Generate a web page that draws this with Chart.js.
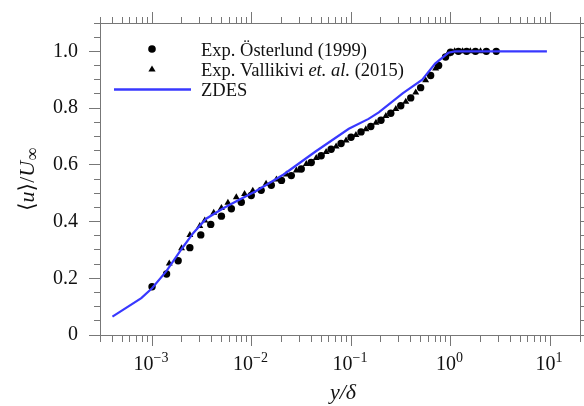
<!DOCTYPE html>
<html>
<head>
<meta charset="utf-8">
<script src="https://cdn.jsdelivr.net/npm/chart.js@4.4.1/dist/chart.umd.min.js"></script>
<style>
html,body{margin:0;padding:0;background:#fff;}
#wrap{width:584px;height:406px;}
</style>
</head>
<body>
<div id="wrap"><canvas id="chart" width="584" height="406"></canvas></div>
<script>
// ZDES mean velocity profile
const zdesX = [0.0004, 0.00078, 0.001, 0.0014, 0.002, 0.0026, 0.0035, 0.0052, 0.0076, 0.011, 0.015, 0.021, 0.044, 0.095, 0.15, 0.19, 0.33, 0.52, 0.70, 0.95, 1.1, 9.3];
const zdesY = [0.065, 0.13, 0.165, 0.226, 0.305, 0.36, 0.41, 0.447, 0.478, 0.507, 0.535, 0.566, 0.647, 0.727, 0.762, 0.785, 0.852, 0.90, 0.957, 0.995, 1.0, 1.0];

// Exp. Osterlund (1999) - circles
const ostX = [0.0010, 0.0014, 0.00183, 0.0024, 0.00309, 0.00389, 0.00498, 0.00627, 0.00789, 0.00993, 0.0125, 0.0158, 0.020, 0.0251, 0.0316, 0.0398, 0.0501, 0.0631, 0.0794, 0.100, 0.126, 0.158, 0.200, 0.251, 0.316, 0.398, 0.501, 0.631, 0.759, 0.891, 1.0, 1.20, 1.45, 1.78, 2.29, 2.88];
const ostY = [0.170, 0.215, 0.262, 0.308, 0.353, 0.390, 0.419, 0.445, 0.468, 0.492, 0.510, 0.528, 0.545, 0.562, 0.585, 0.608, 0.632, 0.655, 0.675, 0.697, 0.716, 0.735, 0.757, 0.782, 0.808, 0.836, 0.872, 0.915, 0.950, 0.980, 0.997, 1.0, 1.0, 1.0, 1.0, 1.0];

// Exp. Vallikivi et al. (2015) - triangles
const valX = [0.00149, 0.00198, 0.0024, 0.00302, 0.00339, 0.00417, 0.00498, 0.00579, 0.00703, 0.00851, 0.0103, 0.0140, 0.0178, 0.0224, 0.0282, 0.0355, 0.0447, 0.0562, 0.0708, 0.0891, 0.112, 0.141, 0.178, 0.224, 0.282, 0.355, 0.447, 0.562, 0.708, 0.933, 1.10, 1.32, 1.58, 2.0];
const valY = [0.252, 0.306, 0.353, 0.384, 0.404, 0.431, 0.448, 0.466, 0.486, 0.497, 0.509, 0.533, 0.548, 0.566, 0.580, 0.603, 0.624, 0.645, 0.665, 0.686, 0.705, 0.725, 0.748, 0.772, 0.797, 0.822, 0.855, 0.898, 0.940, 0.990, 1.0, 1.0, 1.0, 1.0];

// axes
const xMajor = [0.001, 0.01, 0.1, 1, 10];
const xExp = ['\u22123', '\u22122', '\u22121', '0', '1'];
const yMajor = [0, 0.2, 0.4, 0.6, 0.8, 1.0];
const yLabels = ['0', '0.2', '0.4', '0.6', '0.8', '1.0'];

const serif = '"Liberation Serif", "Times New Roman", "DejaVu Serif", serif';
const gray = '#777';
const blue = '#3838ff';

const xTicks = [];
for (let e = -4; e <= 1; e++) {
  for (let m = 1; m <= 9; m++) {
    const v = m * Math.pow(10, e);
    if (v >= 3e-4 * 0.999 && v <= 20 * 1.001) xTicks.push(v);
  }
}
const yTicks = [];
for (let i = 0; i <= 22; i++) yTicks.push(i * 0.05);

const isMajorX = v => Math.abs(Math.log10(v) - Math.round(Math.log10(v))) < 1e-6;
const isMajorY = v => Math.abs(v * 5 - Math.round(v * 5)) < 1e-6;

function pts(xs, ys) { return xs.map((v, i) => ({x: v, y: ys[i]})); }

function axis(type, position, isMajor, dashMinor, size, extra) {
  const horizontal = position === 'top' || position === 'bottom';
  return Object.assign({
    type: type,
    position: position,
    bounds: 'data',
    min: horizontal ? 3e-4 : 0,
    max: horizontal ? 20 : 1.1,
    afterBuildTicks: s => { s.ticks = (horizontal ? xTicks : yTicks).map(v => ({value: v})); },
    afterFit: s => { if (horizontal) s.height = size; else s.width = size; },
    border: {display: true, color: gray, width: 1},
    grid: {
      drawOnChartArea: false,
      drawTicks: true,
      tickLength: 11,
      lineWidth: 1,
      tickWidth: 1,
      tickColor: gray,
      tickBorderDash: c => (c.tick && isMajor(c.tick.value)) ? [] : dashMinor
    },
    ticks: {display: false, autoSkip: false}
  }, extra || {});
}

const extras = {
  id: 'extras',
  afterDraw(chart) {
    const ctx = chart.ctx;
    const x = chart.scales.x;
    ctx.save();
    ctx.fillStyle = '#111';
    ctx.textAlign = 'left';
    ctx.textBaseline = 'alphabetic';

    // x tick labels 10^n
    xMajor.forEach((v, i) => {
      const px = x.getPixelForValue(v);
      ctx.font = '20px ' + serif;
      const w1 = ctx.measureText('10').width;
      ctx.font = '14px ' + serif;
      const w2 = ctx.measureText(xExp[i]).width;
      const x0 = px - (w1 + w2) / 2 - 1;
      ctx.font = '20px ' + serif;
      ctx.fillText('10', x0, 370);
      ctx.font = '14px ' + serif;
      ctx.fillText(xExp[i], x0 + w1, 362);
    });

    // x title
    ctx.font = 'italic 22px ' + serif;
    ctx.textAlign = 'center';
    ctx.fillText('y/\u03b4', 343, 399);

    // y title, rotated
    ctx.save();
    ctx.translate(34, 211);
    ctx.rotate(-Math.PI / 2);
    ctx.textAlign = 'left';
    let cx = 0;
    const seg = (t, f, dy) => { ctx.font = f; ctx.fillText(t, cx, dy || 0); cx += ctx.measureText(t).width; };
    seg('\u27e8', '22px ' + serif);
    seg('u', 'italic 22px ' + serif);
    seg('\u27e9', '22px ' + serif);
    seg('/', '22px ' + serif);
    seg('U', 'italic 22px ' + serif);
    seg('\u221e', '18px ' + serif, 4);
    ctx.restore();

    // legend
    ctx.textAlign = 'left';
    ctx.fillStyle = '#000';
    ctx.beginPath();
    ctx.arc(152, 49, 3.8, 0, Math.PI * 2);
    ctx.fill();
    ctx.beginPath();
    ctx.moveTo(152, 65.5);
    ctx.lineTo(155.6, 71.5);
    ctx.lineTo(148.4, 71.5);
    ctx.closePath();
    ctx.fill();
    ctx.strokeStyle = blue;
    ctx.lineWidth = 2.5;
    ctx.beginPath();
    ctx.moveTo(114, 89.5);
    ctx.lineTo(191, 89.5);
    ctx.stroke();

    ctx.fillStyle = '#111';
    ctx.font = '18.5px ' + serif;
    ctx.fillText('Exp. \u00d6sterlund (1999)', 201, 56);
    cx = 201;
    const seg2 = (t, f) => { ctx.font = f; ctx.fillText(t, cx, 76); cx += ctx.measureText(t).width; };
    seg2('Exp. Vallikivi ', '18.5px ' + serif);
    seg2('et. al.', 'italic 18.5px ' + serif);
    seg2(' (2015)', '18.5px ' + serif);
    ctx.font = '18.5px ' + serif;
    ctx.fillText('ZDES', 201, 96);
    ctx.restore();
  }
};

new Chart(document.getElementById('chart'), {
  type: 'scatter',
  data: {
    datasets: [
      {
        label: 'ZDES',
        data: pts(zdesX, zdesY),
        showLine: true,
        borderColor: blue,
        borderWidth: 2.2,
        pointRadius: 0,
        tension: 0,
        fill: false
      },
      {
        label: 'Exp. Vallikivi et. al. (2015)',
        data: pts(valX, valY),
        pointStyle: 'triangle',
        pointRadius: 4,
        backgroundColor: '#000',
        borderColor: '#000',
        borderWidth: 0
      },
      {
        label: 'Exp. \u00d6sterlund (1999)',
        data: pts(ostX, ostY),
        pointStyle: 'circle',
        pointRadius: 3.7,
        backgroundColor: '#000',
        borderColor: '#000',
        borderWidth: 0
      }
    ]
  },
  options: {
    responsive: false,
    animation: false,
    events: [],
    devicePixelRatio: 1,
    layout: {padding: 0},
    plugins: {legend: {display: false}, tooltip: {enabled: false}, title: {display: false}},
    scales: {
      x: axis('logarithmic', 'bottom', isMajorX, [6, 20], 71),
      x2: axis('logarithmic', 'top', isMajorX, [0, 5, 6, 0], 21),
      y: axis('linear', 'left', isMajorY, [0, 5, 6, 0], 100, {
        ticks: {
          display: true,
          autoSkip: false,
          padding: 11,
          color: '#111',
          font: {family: serif, size: 20},
          callback: v => { const i = yMajor.findIndex(m => Math.abs(m - v) < 1e-6); return i >= 0 ? yLabels[i] : ''; }
        }
      }),
      y2: axis('linear', 'right', isMajorY, [6, 20], 4)
    }
  },
  plugins: [extras]
});
</script>
</body>
</html>
